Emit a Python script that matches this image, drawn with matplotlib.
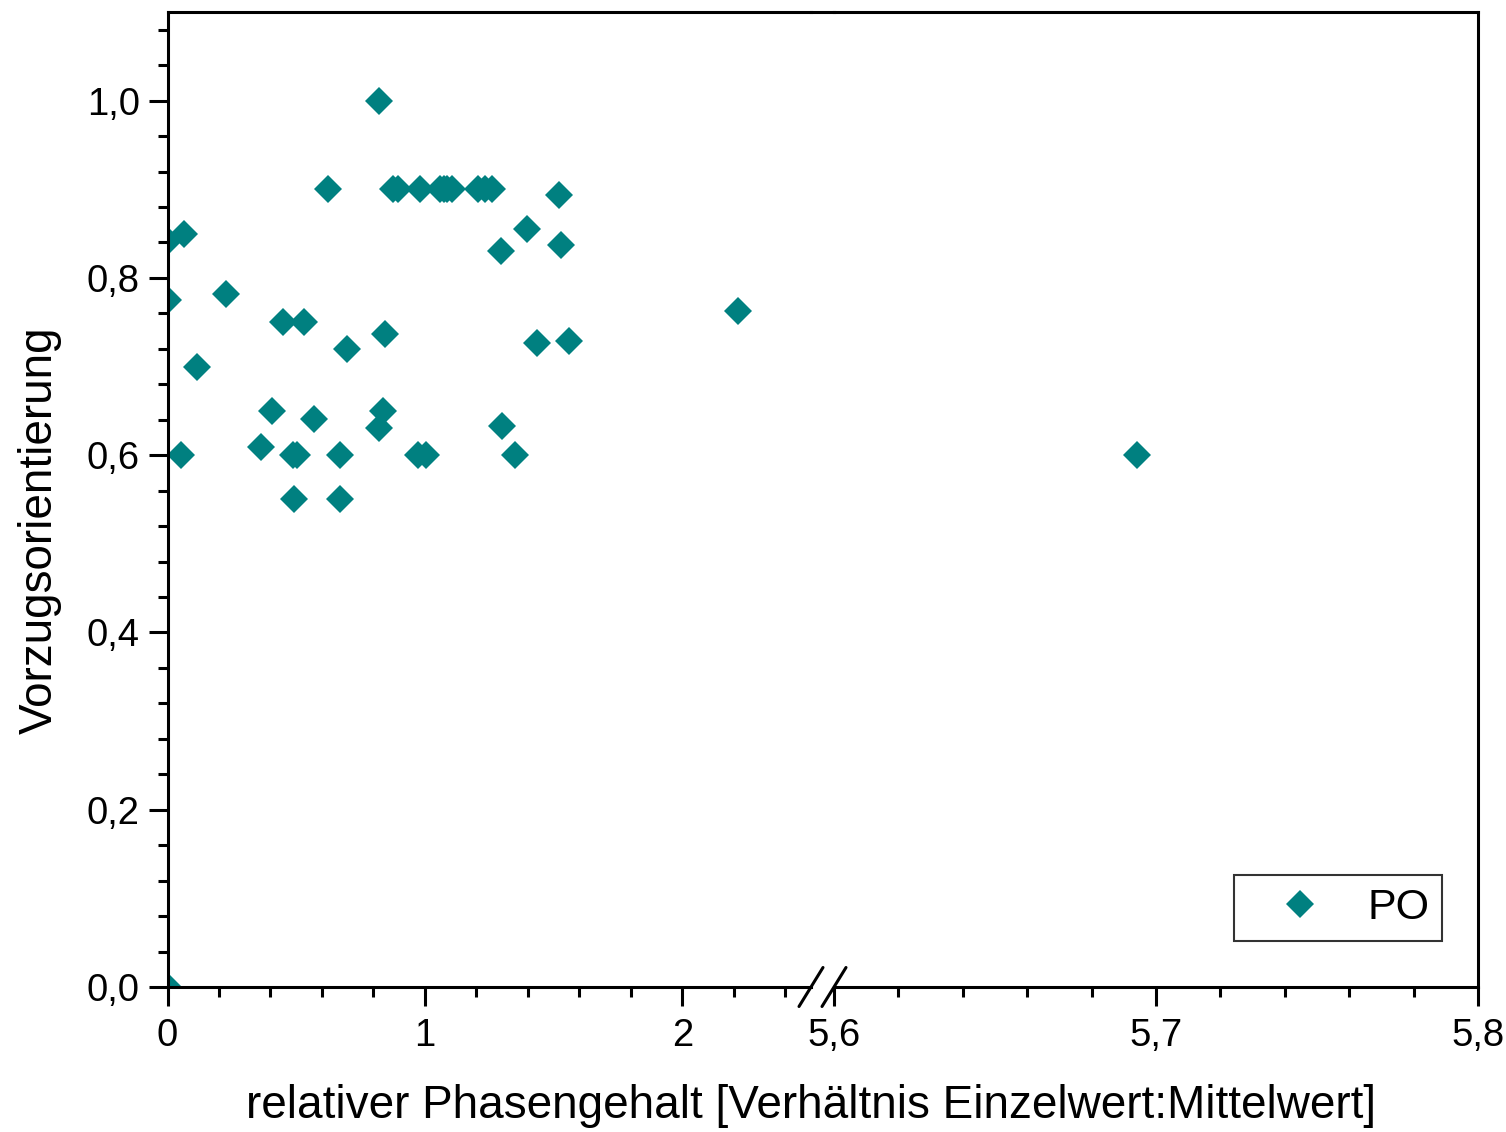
import numpy as np
import matplotlib
matplotlib.use('Agg')
import matplotlib.pyplot as plt
from matplotlib.lines import Line2D
from matplotlib.ticker import FixedLocator, FuncFormatter

plt.rcParams['font.family'] = ['Liberation Sans', 'DejaVu Sans']

# data (broken x axis: 0..2.5 and 5.6..5.8)
x_left = [0.0, 0.0, 0.0, 0.065, 0.052, 0.115, 0.227, 0.362, 0.407, 0.45, 0.486,
          0.49, 0.502, 0.531, 0.568, 0.625, 0.67, 0.67, 0.696, 0.821, 0.821,
          0.836, 0.845, 0.877, 0.896, 0.972, 0.981, 1.004, 1.058, 1.073, 1.087,
          1.104, 1.207, 1.233, 1.262, 1.295, 1.299, 1.35, 1.395, 1.435, 1.52,
          1.528, 1.56, 2.216]
y_left = [0.0, 0.842, 0.775, 0.849, 0.60, 0.70, 0.782, 0.609, 0.65, 0.75, 0.60,
          0.55, 0.60, 0.75, 0.641, 0.90, 0.60, 0.55, 0.72, 1.0, 0.631,
          0.65, 0.737, 0.90, 0.90, 0.60, 0.90, 0.60, 0.90, 0.90, 0.90,
          0.90, 0.90, 0.90, 0.90, 0.83, 0.633, 0.60, 0.855, 0.727, 0.893,
          0.837, 0.729, 0.763]
x_right = [5.694]
y_right = [0.60]

series_name = 'PO'
x_title = 'relativer Phasengehalt [Verhältnis Einzelwert:Mittelwert]'
y_title = 'Vorzugsorientierung'

teal = '#008080'
W, H = 1506, 1132
fig = plt.figure(figsize=(W / 100, H / 100), dpi=100)

bottom = 1 - 987 / H
height = (987 - 12) / H
ax1 = fig.add_axes([167.5 / W, bottom, (811 - 167.5) / W, height])
ax2 = fig.add_axes([834 / W, bottom, (1478 - 834) / W, height])

mk = dict(marker='D', ms=14, mew=0, color=teal, linestyle='none')
ax1.plot(x_left, y_left, **mk)
ax2.plot(x_right, y_right, label=series_name, **mk)

ax1.set_xlim(0, 2.5)
ax2.set_xlim(5.6, 5.8)
for ax in (ax1, ax2):
    ax.set_ylim(0, 1.1)
    for s in ax.spines.values():
        s.set_linewidth(2.2)
    ax.tick_params(which='major', direction='out', length=14, width=2.2,
                   labelsize=27.5, pad=8)
    ax.tick_params(which='minor', direction='out', length=7, width=2.2)

comma = FuncFormatter(lambda v, p: ('%g' % round(v, 2)).replace('.', ','))

ax1.spines['right'].set_visible(False)
ax1.xaxis.set_major_locator(FixedLocator([0, 1, 2]))
ax1.xaxis.set_minor_locator(FixedLocator(np.arange(0.2, 2.45, 0.2)))
ax1.xaxis.set_major_formatter(comma)
ax1.yaxis.set_major_locator(FixedLocator(np.arange(0, 1.01, 0.2)))
ax1.yaxis.set_minor_locator(FixedLocator(np.arange(0.04, 1.09, 0.04)))
ax1.yaxis.set_major_formatter(FuncFormatter(lambda v, p: ('%.1f' % v).replace('.', ',')))
ax1.tick_params(axis='y', pad=6)

ax2.spines['left'].set_visible(False)
ax2.xaxis.set_major_locator(FixedLocator([5.6, 5.7, 5.8]))
ax2.xaxis.set_minor_locator(FixedLocator(np.arange(5.62, 5.795, 0.02)))
ax2.xaxis.set_major_formatter(comma)
ax2.yaxis.set_visible(False)

# continuous top border across the break
p1, p2 = ax1.get_position(), ax2.get_position()
fig.add_artist(Line2D([p1.x1, p2.x0], [p1.y1, p2.y1], transform=fig.transFigure,
                      color='black', lw=2.2, solid_capstyle='projecting'))

# break marks on the x axis
dx, dy = 12 / W, 19.5 / H
for xc in (p1.x1, p2.x0):
    fig.add_artist(Line2D([xc - dx, xc + dx], [p1.y0 - dy, p1.y0 + dy],
                          transform=fig.transFigure, color='black', lw=2.2,
                          solid_capstyle='round'))

leg = ax2.legend(loc='lower right', bbox_to_anchor=(1442 / W, 1 - 941 / H),
                 bbox_transform=fig.transFigure, fontsize=31, frameon=True,
                 fancybox=False, borderaxespad=0, handletextpad=0.3,
                 borderpad=0.3, handlelength=2.5)
leg.get_frame().set_edgecolor('black')
leg.get_frame().set_linewidth(1.5)

fig.text(811 / W, 1 - 1106 / H, x_title, ha='center', va='center', fontsize=33)
fig.text(40 / W, 1 - 530 / H, y_title, ha='center', va='center', fontsize=33,
         rotation=90)

fig.savefig('out.png', dpi=100)
